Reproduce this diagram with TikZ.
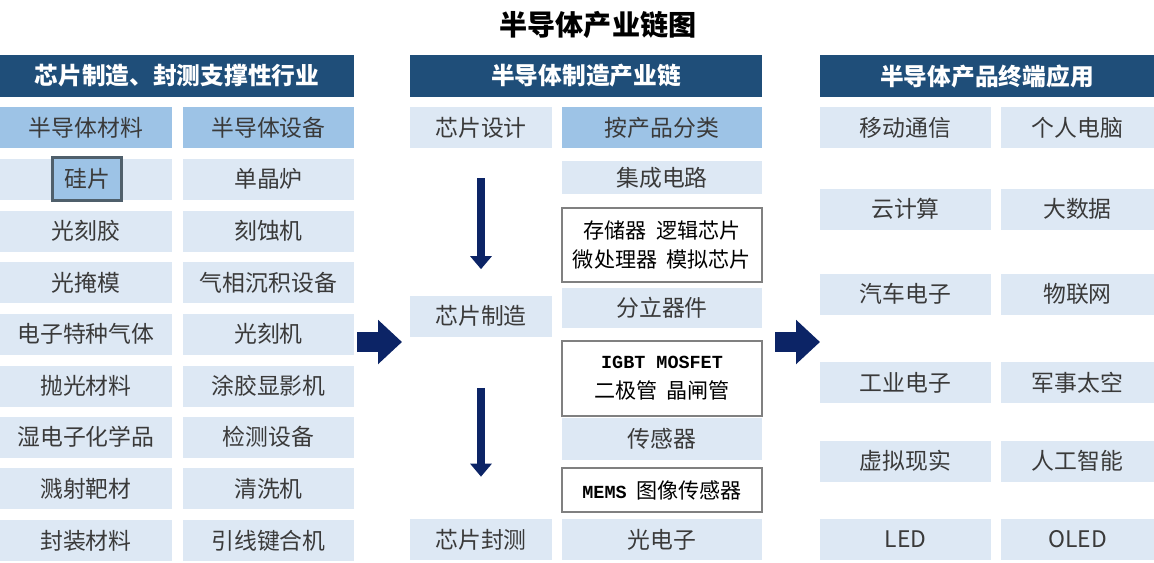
\documentclass[tikz,border=0pt]{standalone}
\usepackage{fontspec}
\setmainfont{Noto Sans CJK SC}
\newfontfamily\monofont{Liberation Mono}
\usepackage{tikz}
\usetikzlibrary{arrows.meta}
\definecolor{headblue}{HTML}{1F4E79}
\definecolor{catblue}{HTML}{9DC3E6}
\definecolor{itemblue}{HTML}{DDE8F4}
\definecolor{arrownavy}{HTML}{0C2466}
\definecolor{textgray}{HTML}{3A3A3A}
\definecolor{edgegray}{HTML}{4F5F6B}

\begin{document}
\begin{tikzpicture}[x=0.02cm, y=-0.02cm,
  box/.style={inner sep=0pt, align=center, text=textgray, font=\fontsize{13}{15}\selectfont},
  head/.style={box, fill=headblue, text=white, font=\fontsize{13.5}{15}\selectfont\bfseries, minimum height=0.84cm},
  cat/.style={box, fill=catblue, minimum height=0.82cm},
  item/.style={box, fill=itemblue, minimum height=0.82cm},
  outl/.style={box, fill=white, draw=gray, thick, text=black, font=\fontsize{12}{17}\selectfont},
  downarrow/.style={arrownavy, line width=0.16cm, -{Triangle[length=0.26cm, width=0.42cm]}},
  bigarrow/.style={arrownavy, line width=0.4cm, -{Triangle[length=0.48cm, width=0.86cm]}},
]
\useasboundingbox (0,0) rectangle (1154,562);
\node[font=\fontsize{16}{18}\selectfont\bfseries] (title) at (598,25) {半导体产业链图};
% 1st column
\node[head, minimum width=7.08cm] (lhead) at (177,76) {芯片制造、封测支撑性行业};
\node[cat,  minimum width=3.44cm] (mat)  at (86,127.5) {半导体材料};
\node[cat,  minimum width=3.42cm] (equ)  at (268.5,127.5) {半导体设备};
\node[item, minimum width=3.44cm] (mat1) at (86,179) {};
\node[cat, draw=edgegray, line width=0.06cm, minimum width=1.4cm, minimum height=0.86cm] (wafer) at (87,179) {硅片};
\node[item, minimum width=3.42cm] (equ1) at (268.5,179) {单晶炉};
\node[item, minimum width=3.44cm] (mat2) at (86,231) {光刻胶};
\node[item, minimum width=3.42cm] (equ2) at (268.5,231) {刻蚀机};
\node[item, minimum width=3.44cm] (mat3) at (86,282.5) {光掩模};
\node[item, minimum width=3.42cm] (equ3) at (268.5,282.5) {气相沉积设备};
\node[item, minimum width=3.44cm] (mat4) at (86,334) {电子特种气体};
\node[item, minimum width=3.42cm] (equ4) at (268.5,334) {光刻机};
\node[item, minimum width=3.44cm] (mat5) at (86,386) {抛光材料};
\node[item, minimum width=3.42cm] (equ5) at (268.5,386) {涂胶显影机};
\node[item, minimum width=3.44cm] (mat6) at (86,437) {湿电子化学品};
\node[item, minimum width=3.42cm] (equ6) at (268.5,437) {检测设备};
\node[item, minimum width=3.44cm] (mat7) at (86,488.5) {溅射靶材};
\node[item, minimum width=3.42cm] (equ7) at (268.5,488.5) {清洗机};
\node[item, minimum width=3.44cm] (mat8) at (86,540.5) {封装材料};
\node[item, minimum width=3.42cm] (equ8) at (268.5,540.5) {引线键合机};
% 2nd column
\node[head, minimum width=7.04cm] (mhead) at (586,76) {半导体制造产业链};
\node[item, minimum width=2.84cm] (design) at (481,127.5) {芯片设计};
\node[item, minimum width=2.84cm] (make)   at (481,316) {芯片制造};
\node[item, minimum width=2.84cm] (pack)   at (481,539.5) {芯片封测};
\node[cat,  minimum width=4cm] (bycat)  at (662,127.5) {按产品分类};
\node[item, minimum width=4cm, minimum height=0.66cm] (ic) at (662,177.5) {集成电路};
\node[outl, minimum width=4cm, minimum height=1.48cm] (iclist) at (662,245) {存储器\hspace{0.45em}逻辑芯片\\微处理器\hspace{0.45em}模拟芯片};
\node[item, minimum width=4cm, minimum height=0.8cm] (disc) at (662,308) {分立器件};
\node[outl, minimum width=4cm, minimum height=1.5cm] (disclist) at (662,378.5) {{\monofont\bfseries\fontsize{10.5}{17}\selectfont IGBT MOSFET}\\二极管\hspace{0.45em}晶闸管};
\node[item, minimum width=4cm, minimum height=0.84cm] (sens) at (662,439) {传感器};
\node[outl, minimum width=4cm, minimum height=0.88cm] (senslist) at (662,490) {{\monofont\bfseries\fontsize{10.5}{17}\selectfont MEMS}\hspace{0.45em}图像传感器};
\node[item, minimum width=4cm] (opto) at (662,539.5) {光电子};
\draw[downarrow, shorten <=0.6cm, shorten >=0.52cm] (design) -- (make);
\draw[downarrow, shorten <=1.02cm, shorten >=0.84cm] (make) -- (pack);
% 3rd column
\node[head, minimum width=6.68cm] (rhead) at (987,76) {半导体产品终端应用};
\node[item, minimum width=3.42cm] (app1)  at (905.5,127.5) {移动通信};
\node[item, minimum width=3.06cm] (app2)  at (1077.5,127.5) {个人电脑};
\node[item, minimum width=3.42cm] (app3)  at (905.5,209) {云计算};
\node[item, minimum width=3.06cm] (app4)  at (1077.5,209) {大数据};
\node[item, minimum width=3.42cm] (app5)  at (905.5,294) {汽车电子};
\node[item, minimum width=3.06cm] (app6)  at (1077.5,294) {物联网};
\node[item, minimum width=3.42cm] (app7)  at (905.5,382.5) {工业电子};
\node[item, minimum width=3.06cm] (app8)  at (1077.5,382.5) {军事太空};
\node[item, minimum width=3.42cm] (app9)  at (905.5,461) {虚拟现实};
\node[item, minimum width=3.06cm] (app10) at (1077.5,461) {人工智能};
\node[item, minimum width=3.42cm] (app11) at (905.5,539) {LED};
\node[item, minimum width=3.06cm] (app12) at (1077.5,539) {OLED};
% arrows between columns
\coordinate (toMidA) at (357,342);
\coordinate (toMidB) at (402,342);
\coordinate (toEndA) at (775,342);
\coordinate (toEndB) at (820,342);
\draw[bigarrow] (toMidA) -- (toMidB);
\draw[bigarrow] (toEndA) -- (toEndB);
\end{tikzpicture}
\end{document}
